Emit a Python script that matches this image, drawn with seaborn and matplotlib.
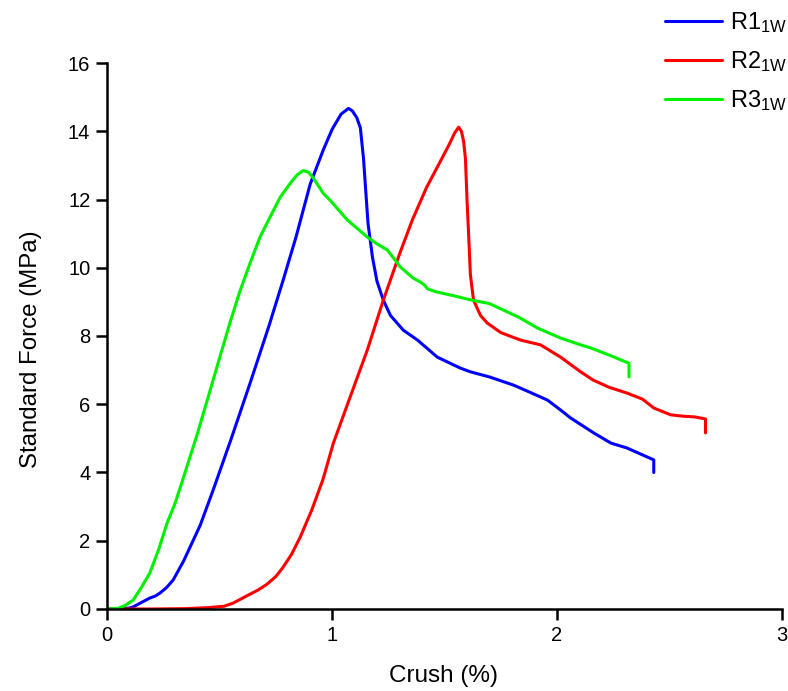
import matplotlib
matplotlib.use("Agg")
import matplotlib.pyplot as plt
import seaborn as sns
import pandas as pd

# Stress-strain data for three 1-week specimens
r1_crush = [0, 0.05, 0.10, 0.116, 0.15, 0.19, 0.215, 0.236, 0.265, 0.294, 0.34, 0.414, 0.472,
            0.55, 0.636, 0.72, 0.783, 0.84, 0.903, 0.961, 1.00, 1.04, 1.073, 1.09, 1.11,
            1.126, 1.14, 1.16, 1.18, 1.20, 1.228, 1.26, 1.317, 1.38, 1.468, 1.57, 1.615,
            1.70, 1.807, 1.88, 1.958, 2.016, 2.06, 2.163, 2.24, 2.31, 2.43, 2.43]
r1_force = [0, 0, 0.03, 0.06, 0.18, 0.32, 0.38, 0.47, 0.63, 0.85, 1.4, 2.45, 3.49,
            4.95, 6.62, 8.3, 9.64, 10.9, 12.45, 13.45, 14.05, 14.5, 14.67, 14.6, 14.4,
            14.1, 13.2, 11.3, 10.3, 9.6, 9.05, 8.6, 8.17, 7.88, 7.38, 7.06, 6.95,
            6.8, 6.56, 6.35, 6.12, 5.83, 5.6, 5.16, 4.86, 4.72, 4.37, 4.0]

r2_crush = [0, 0.2, 0.35, 0.45, 0.52, 0.56, 0.62, 0.67, 0.71, 0.75, 0.78, 0.82, 0.859,
            0.91, 0.96, 1.006, 1.08, 1.157, 1.228, 1.30, 1.357, 1.42, 1.48, 1.52, 1.545,
            1.563, 1.575, 1.585, 1.593, 1.600, 1.607, 1.615, 1.629, 1.66, 1.69, 1.75,
            1.838, 1.927, 2.016, 2.105, 2.16, 2.23, 2.31, 2.38, 2.43, 2.505, 2.56, 2.61,
            2.66, 2.66]
r2_force = [0, 0, 0.01, 0.04, 0.08, 0.17, 0.38, 0.55, 0.72, 0.95, 1.2, 1.6, 2.11,
            2.9, 3.8, 4.86, 6.2, 7.59, 9.05, 10.4, 11.4, 12.35, 13.1, 13.6, 13.95,
            14.12, 14.0, 13.7, 13.2, 12.0, 11.0, 9.8, 9.05, 8.6, 8.38, 8.1,
            7.88, 7.74, 7.38, 6.95, 6.71, 6.5, 6.33, 6.15, 5.89, 5.69, 5.65, 5.63,
            5.57, 5.16]

r3_crush = [0, 0.05, 0.08, 0.116, 0.15, 0.19, 0.23, 0.267, 0.30, 0.33, 0.40, 0.458, 0.50,
            0.547, 0.59, 0.636, 0.68, 0.725, 0.77, 0.815, 0.845, 0.872, 0.895, 0.917,
            0.96, 0.99, 1.068, 1.157, 1.20, 1.246, 1.304, 1.36, 1.393, 1.41, 1.425, 1.46,
            1.54, 1.615, 1.70, 1.762, 1.83, 1.914, 2.016, 2.105, 2.15, 2.24, 2.32, 2.32]
r3_force = [0, 0.02, 0.1, 0.26, 0.6, 1.05, 1.75, 2.52, 3.05, 3.65, 5.1, 6.4, 7.35,
            8.4, 9.3, 10.14, 10.9, 11.49, 12.07, 12.48, 12.72, 12.85, 12.8, 12.63,
            12.19, 11.99, 11.4, 10.9, 10.7, 10.52, 10.02, 9.7, 9.58, 9.5, 9.38, 9.3,
            9.18, 9.06, 8.95, 8.76, 8.55, 8.23, 7.94, 7.74, 7.65, 7.42, 7.2, 6.8]

labels = ["R1$_{1W}$", "R2$_{1W}$", "R3$_{1W}$"]
colors = ["#0000ff", "#ff0000", "#00f000"]
x_ticks = [0, 1, 2, 3]
y_ticks = [0, 2, 4, 6, 8, 10, 12, 14, 16]

frames = []
for lab, xs, ys in zip(labels, [r1_crush, r2_crush, r3_crush], [r1_force, r2_force, r3_force]):
    frames.append(pd.DataFrame({"crush": xs, "force": ys, "sample": lab}))
df = pd.concat(frames, ignore_index=True)

sns.set_style("ticks")
plt.rcParams["font.family"] = ["Liberation Sans", "DejaVu Sans"]
plt.rcParams["mathtext.fontset"] = "custom"
plt.rcParams["mathtext.rm"] = "Liberation Sans"
plt.rcParams["mathtext.default"] = "regular"
plt.rcParams["text.color"] = "black"
plt.rcParams["axes.labelcolor"] = "black"

fig = plt.figure(figsize=(7.88, 6.91), dpi=100)
ax = fig.add_axes([0.1358, 0.1187, 0.8566, 0.7901])

sns.lineplot(data=df, x="crush", y="force", hue="sample", palette=colors,
             sort=False, estimator=None, linewidth=2.2, ax=ax, legend=True)

ax.set_xlim(0, 3)
ax.set_ylim(0, 16)
ax.set_xticks(x_ticks)
ax.set_yticks(y_ticks)
ax.set_xticklabels([str(t) for t in x_ticks])
ax.set_yticklabels([str(t) for t in y_ticks])
ax.tick_params(axis="both", direction="out", length=8, width=1.8, labelsize=14.5,
               color="black", labelcolor="black", pad=4)
for s in ["top", "right"]:
    ax.spines[s].set_visible(False)
for s in ["left", "bottom"]:
    ax.spines[s].set_linewidth(1.8)
    ax.spines[s].set_color("black")

ax.set_xlabel("Crush (%)", fontsize=17.5)
ax.set_ylabel("Standard Force (MPa)", fontsize=17.3)
ax.xaxis.set_label_coords(0.498, -0.1227)
ax.xaxis.label.set_verticalalignment("center")
ax.yaxis.set_label_coords(-0.112, 0.476)
ax.yaxis.label.set_verticalalignment("center")
ax.yaxis.label.set_horizontalalignment("center")

leg = ax.legend(loc="upper left", bbox_to_anchor=(665 / 788, 1 - 10 / 691),
                bbox_transform=fig.transFigure, frameon=False, fontsize=17,
                handlelength=2.41, labelspacing=0.6, handletextpad=0.34,
                borderpad=0, borderaxespad=0)
for line in leg.get_lines():
    line.set_linewidth(2.2)

fig.savefig("out.png", dpi=100)
